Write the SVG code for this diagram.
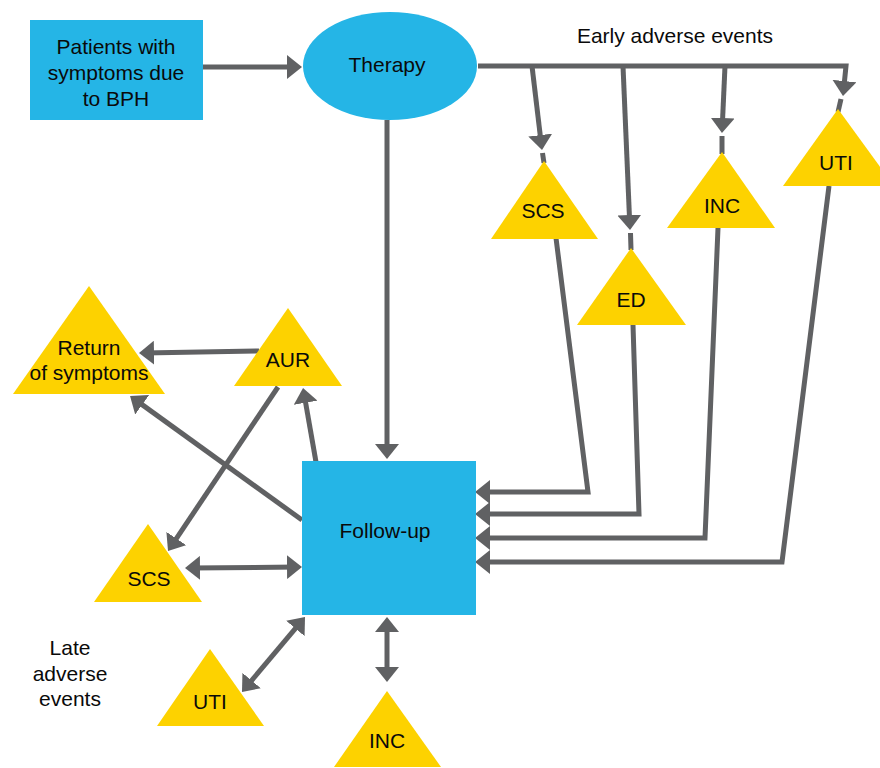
<svg xmlns="http://www.w3.org/2000/svg" width="880" height="768" viewBox="0 0 880 768">
<style>
.blue{fill:#25B5E6}
.tri{fill:#FDD200}
.t{font-family:"Liberation Sans",Arial,sans-serif;font-size:21px;fill:#0a0a0a;text-anchor:middle}
.c{fill:none;stroke:#606163;stroke-width:5;stroke-linejoin:miter}
.a{marker-end:url(#ah)}
.d{marker-start:url(#ah);marker-end:url(#ah)}
</style>
<defs>
<marker id="ah" viewBox="0 0 15 24" refX="10" refY="12" markerWidth="15" markerHeight="24" markerUnits="userSpaceOnUse" orient="auto-start-reverse">
<path d="M0,0 L15,12 L0,24 z" fill="#606163"/>
</marker>
</defs>
<rect width="880" height="768" fill="#fff"/>
<g id="connectors">
<path class="c a" d="M203,67 H297"/>
<path class="c a" d="M478,66 H846 L843.5,91"/>
<path class="c" d="M841,99 L838,112"/>
<path class="c a" d="M532,66 L541.4,145"/>
<path class="c" d="M542.5,153 L544,163"/>
<path class="c a" d="M623,66 L629.8,225"/>
<path class="c" d="M630.5,233 L631,250"/>
<path class="c a" d="M725,66 L722.2,128"/>
<path class="c" d="M722,136 L722,154"/>
<path class="c a" d="M387,120 V454"/>
<path class="c a" d="M556,238 L588,492 H480"/>
<path class="c a" d="M633,325 L639,514 H480"/>
<path class="c a" d="M718,228 L705,538 H480"/>
<path class="c a" d="M829,186 L782,562 H480"/>
<path class="c a" d="M259,351 L144,352.9"/>
<path class="c a" d="M316,462 L303.9,392.9"/>
<path class="c a" d="M302,520 L134.1,398.9"/>
<path class="c a" d="M278,387 L170.8,546.8"/>
<path class="c d" d="M190,568 L297,567"/>
<path class="c d" d="M245.2,688.2 L301.8,620.8"/>
<path class="c d" d="M387,622 V677"/>
</g>
<g id="patients">
<rect class="blue" x="30" y="20" width="173" height="100"/>
<text class="t" x="116" y="54">Patients with</text>
<text class="t" x="116" y="80">symptoms due</text>
<text class="t" x="116" y="106">to BPH</text>
</g>
<g id="therapy">
<ellipse class="blue" cx="390" cy="66" rx="87" ry="54"/>
<text class="t" x="387" y="72">Therapy</text>
</g>
<g id="early-label">
<text class="t" x="675" y="43">Early adverse events</text>
</g>
<g id="early-scs">
<polygon class="tri" points="544,161 598,239 491,239"/>
<text class="t" x="543" y="218">SCS</text>
</g>
<g id="early-ed">
<polygon class="tri" points="631,248 686,325 577,325"/>
<text class="t" x="631" y="307">ED</text>
</g>
<g id="early-inc">
<polygon class="tri" points="722,152 775,228 667,228"/>
<text class="t" x="722" y="213">INC</text>
</g>
<g id="early-uti">
<polygon class="tri" points="838,109 894,186 783,186"/>
<text class="t" x="836" y="170">UTI</text>
</g>
<g id="followup">
<rect class="blue" x="302" y="461" width="174" height="154"/>
<text class="t" x="385" y="538">Follow-up</text>
</g>
<g id="late-return">
<polygon class="tri" points="89,286 165,394 13,394"/>
<text class="t" x="89" y="355">Return</text>
<text class="t" x="89" y="380">of symptoms</text>
</g>
<g id="late-aur">
<polygon class="tri" points="288,308 342,386 234,386"/>
<text class="t" x="288" y="367">AUR</text>
</g>
<g id="late-scs">
<polygon class="tri" points="148,524 202,602 94,602"/>
<text class="t" x="149" y="586">SCS</text>
</g>
<g id="late-uti">
<polygon class="tri" points="210,649 264,726 157,726"/>
<text class="t" x="210" y="709">UTI</text>
</g>
<g id="late-inc">
<polygon class="tri" points="387,691 441,767 334,767"/>
<text class="t" x="387" y="748">INC</text>
</g>
<g id="late-label">
<text class="t" x="70" y="655">Late</text>
<text class="t" x="70" y="681">adverse</text>
<text class="t" x="70" y="706">events</text>
</g>
</svg>
